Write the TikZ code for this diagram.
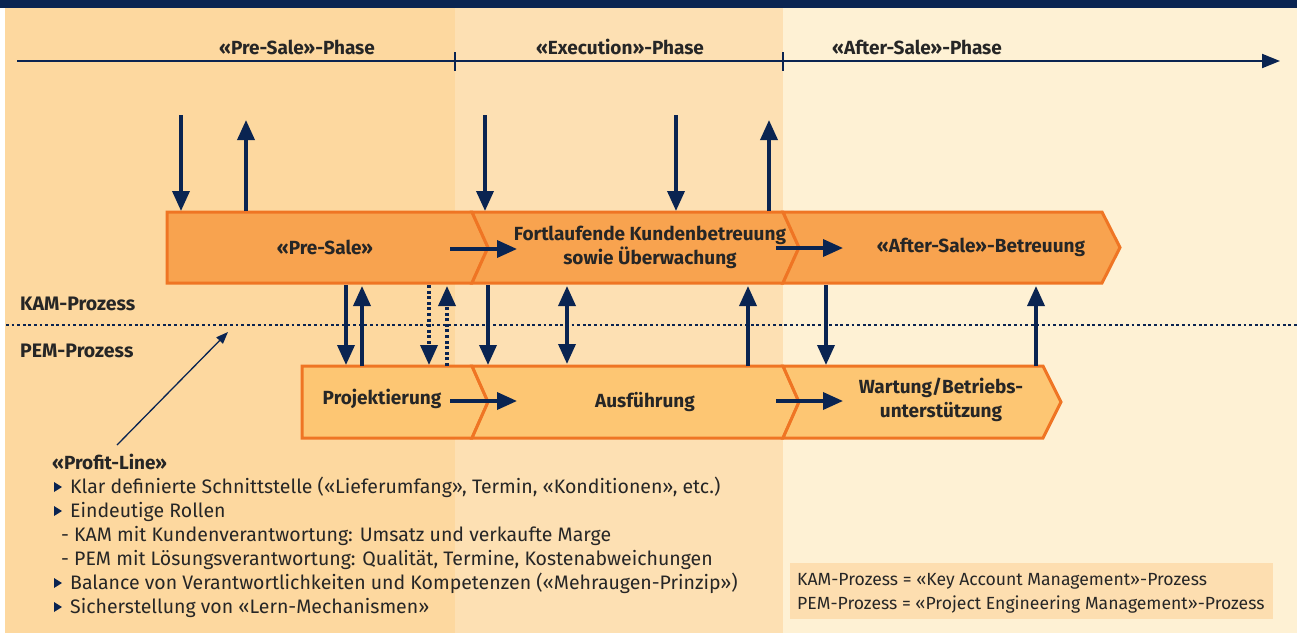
\documentclass[tikz,border=0pt]{standalone}
\usepackage{fontspec}
\setmainfont{Fira Sans}
\usetikzlibrary{arrows.meta}
\definecolor{navy}{HTML}{0A2451}
\definecolor{bandA}{HTML}{FDD89F}
\definecolor{bandB}{HTML}{FDE0B3}
\definecolor{bandC}{HTML}{FEF1D4}
\definecolor{kamfill}{HTML}{F8A34F}
\definecolor{pemfill}{HTML}{FDC673}
\definecolor{chevline}{HTML}{EF7524}
\definecolor{txt}{HTML}{262626}
\definecolor{legfill}{HTML}{FDDEB0}
\tikzset{
  varr/.style={draw=navy, line width=3.5pt, -{Triangle[length=20pt,width=17pt]}},
  darr/.style={draw=navy, line width=3.5pt, {Triangle[length=20pt,width=17pt]}-{Triangle[length=20pt,width=17pt]}},
  dotarr/.style={varr, dash pattern=on 3pt off 2.6pt},
  harr/.style={draw=navy, line width=3.5pt, -{Triangle[length=20pt,width=17pt]}},
  kamchev/.style={fill=kamfill, draw=chevline, line width=3pt, line join=miter},
  pemchev/.style={fill=pemfill, draw=chevline, line width=3pt, line join=miter},
  boxlabel/.style={font=\bfseries\fontsize{19}{24}\selectfont, text=txt, align=center, inner sep=0pt},
  sidelabel/.style={font=\bfseries\fontsize{19.5}{22}\selectfont, text=txt, anchor=west, inner sep=0pt},
  phaselabel/.style={font=\bfseries\fontsize{19}{22}\selectfont, text=txt, inner sep=0pt},
  bodyline/.style={font=\fontsize{19.5}{22}\selectfont, text=txt, anchor=base west, inner sep=0pt},
  legline/.style={font=\fontsize{17.6}{22}\selectfont, text=txt, anchor=base west, inner sep=0pt},
  bullet/.style={fill=navy, draw=none},
}
\begin{document}
\begin{tikzpicture}[x=1pt,y=-1pt]
\useasboundingbox (0,0) rectangle (1297,637);
% background bands
\fill[white] (0,0) rectangle (1297,637);
\fill[bandA] (5,8) rectangle (455,633);
\fill[bandB] (455,8) rectangle (783,633);
\fill[bandC] (783,8) rectangle (1297,633);
\fill[navy] (0,0) rectangle (1297,8);

% time ruler
\coordinate (rs) at (17,61);
\coordinate (re) at (1280,61);
\draw[navy, line width=2pt, -{Triangle[length=18pt,width=14pt]}] (rs) -- (re);
\foreach \x in {455,783} \draw[navy, line width=2pt] (\x,52) -- (\x,71);
\node[phaselabel] (ph1) at (297,47) {«Pre-Sale»-Phase};
\node[phaselabel] (ph2) at (620,47) {«Execution»-Phase};
\node[phaselabel] (ph3) at (917,47) {«After-Sale»-Phase};

% profit line
\coordinate (pl1) at (6,325);
\coordinate (pl2) at (1297,325);
\draw[navy, line width=2.8pt, dash pattern=on 2.8pt off 2.8pt] (pl1) -- (pl2);

% KAM row chevrons
\path[kamchev] (167,212) -- (472,212) -- (488,247.5) -- (472,283) -- (167,283) -- cycle;
\path[kamchev] (472,212) -- (783,212) -- (799,247.5) -- (783,283) -- (472,283) -- (488,247.5) -- cycle;
\path[kamchev] (783,212) -- (1102,212) -- (1120,247.5) -- (1102,283) -- (783,283) -- (799,247.5) -- cycle;
% PEM row chevrons
\path[pemchev] (302,366) -- (472,366) -- (488,402) -- (472,438) -- (302,438) -- cycle;
\path[pemchev] (472,366) -- (783,366) -- (799,402) -- (783,438) -- (472,438) -- (488,402) -- cycle;
\path[pemchev] (783,366) -- (1043,366) -- (1061,402) -- (1043,438) -- (783,438) -- (799,402) -- cycle;

% box labels
\node[boxlabel] (presale) at (325,247) {«Pre-Sale»};
\node[boxlabel] (fortl) at (650,247) {Fortlaufende Kundenbetreuung\\sowie Überwachung};
\node[boxlabel] (aftersale) at (981,247) {«After-Sale»-Betreuung};
\node[boxlabel] (projekt) at (382,399) {Projektierung};
\node[boxlabel] (ausf) at (645,402) {Ausführung};
\node[boxlabel] (wartung) at (941,400) {Wartung/Betriebs-\\unterstützung};

% horizontal arrows inside the chevrons
\coordinate (h1a) at (450,249); \coordinate (h1b) at (517,249);
\coordinate (h2a) at (776,248); \coordinate (h2b) at (843,248);
\coordinate (h3a) at (450,401); \coordinate (h3b) at (517,401);
\coordinate (h4a) at (776,401); \coordinate (h4b) at (843,401);
\draw[harr] (h1a) -- (h1b);
\draw[harr] (h2a) -- (h2b);
\draw[harr] (h3a) -- (h3b);
\draw[harr] (h4a) -- (h4b);

% arrows from above into KAM row
\foreach \x [count=\i] in {181,485,676} {
  \coordinate (dt\i) at (\x,115); \coordinate (db\i) at (\x,211);
  \draw[varr] (dt\i) -- (db\i);
}
\foreach \x [count=\i] in {246,769} {
  \coordinate (ub\i) at (\x,211); \coordinate (ut\i) at (\x,120);
  \draw[varr] (ub\i) -- (ut\i);
}

% arrows between KAM and PEM rows
\foreach \x [count=\i] in {346,488,826} {
  \coordinate (kd\i) at (\x,285); \coordinate (pd\i) at (\x,365);
  \draw[varr] (kd\i) -- (pd\i);
}
\foreach \x [count=\i] in {362,748,1036} {
  \coordinate (pu\i) at (\x,366); \coordinate (ku\i) at (\x,286);
  \draw[varr] (pu\i) -- (ku\i);
}
\coordinate (dd1) at (429,285); \coordinate (dd2) at (429,365);
\draw[dotarr] (dd1) -- (dd2);
\coordinate (du1) at (447,366); \coordinate (du2) at (447,286);
\draw[dotarr] (du1) -- (du2);
\coordinate (bb1) at (567,286); \coordinate (bb2) at (567,364);
\draw[darr] (bb1) -- (bb2);

% process labels
\node[sidelabel] (kam) at (20,304) {KAM-Prozess};
\node[sidelabel] (pem) at (20,351) {PEM-Prozess};

% profit line pointer
\node[bodyline, font=\bfseries\fontsize{19}{22}\selectfont] (profit) at (52,469) {«Profit-Line»};
\coordinate (pp1) at (117,445);
\coordinate (pp2) at (228,332);
\draw[navy, line width=1.3pt, -{Triangle[length=12pt,width=9pt]}] (pp1) -- (pp2);

% bullet list
\foreach \y in {493,517,589,613} \fill[bullet] (54,\y-11) -- (62,\y-6) -- (54,\y-1) -- cycle;
\node[bodyline] (l1) at (70,493) {Klar definierte Schnittstelle («Lieferumfang», Termin, «Konditionen», etc.)};
\node[bodyline] (l2) at (70,517) {Eindeutige Rollen};
\node[bodyline] (l3) at (61,541) {- KAM mit Kundenverantwortung: Umsatz und verkaufte Marge};
\node[bodyline] (l4) at (61,565) {- PEM mit Lösungsverantwortung: Qualität, Termine, Kostenabweichungen};
\node[bodyline] (l5) at (70,589) {Balance von Verantwortlichkeiten und Kompetenzen («Mehraugen-Prinzip»)};
\node[bodyline] (l6) at (70,613) {Sicherstellung von «Lern-Mechanismen»};

% legend
\fill[legfill] (790,563) rectangle (1273,619);
\node[legline] (lg1) at (797,585) {KAM-Prozess = «Key Account Management»-Prozess};
\node[legline] (lg2) at (797,609) {PEM-Prozess = «Project Engineering Management»-Prozess};
\end{tikzpicture}
\end{document}
